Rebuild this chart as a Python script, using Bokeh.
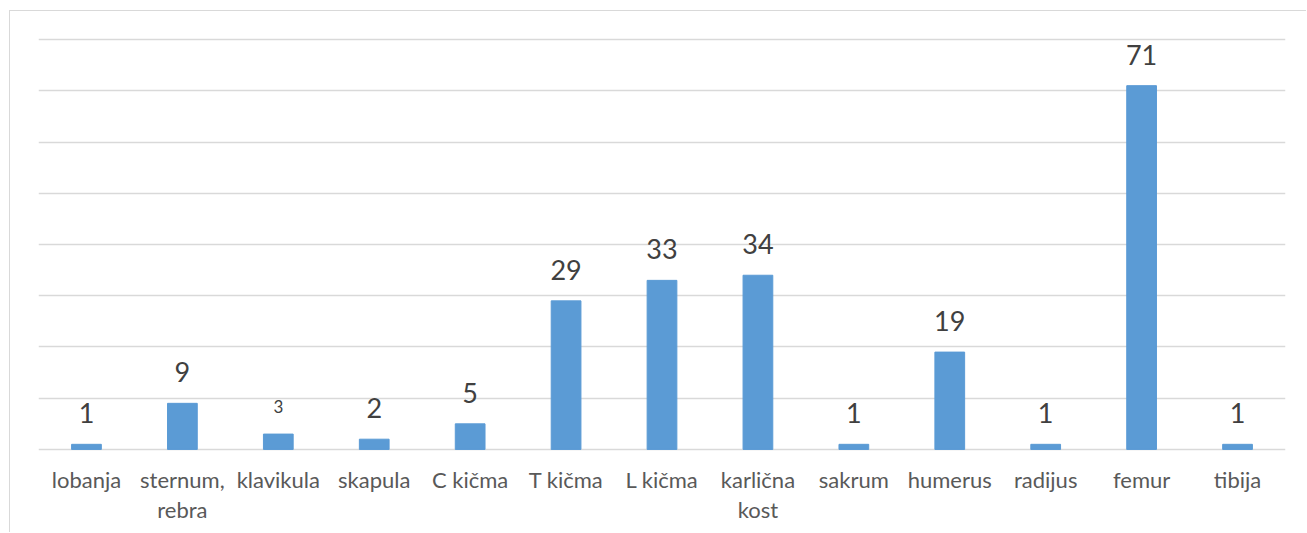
from bokeh.plotting import figure
from bokeh.models import ColumnDataSource, FactorRange, Range1d, Grid, FixedTicker
from bokeh.core.properties import value
from bokeh.embed import file_html
from bokeh.resources import INLINE

# Skeletal sites and counts
categories = ["lobanja", "sternum,\nrebra", "klavikula", "skapula", "C kičma",
              "T kičma", "L kičma", "karlična\nkost", "sakrum", "humerus",
              "radijus", "femur", "tibija"]
counts = [1, 9, 3, 2, 5, 29, 33, 34, 1, 19, 1, 71, 1]
label_sizes = ["27px", "27px", "17px", "27px", "27px", "27px", "27px",
               "27px", "27px", "27px", "27px", "27px", "27px"]
grid_ticks = [0, 10, 20, 30, 40, 50, 60, 70, 80]

FONT = "Lato"
BAR = "#5B9BD5"
GRID = "#D9D9D9"

source = ColumnDataSource(dict(
    cat=categories,
    n=counts,
    lab=[str(v) for v in counts],
    size=label_sizes,
))

p = figure(
    x_range=FactorRange(*categories, range_padding=0),
    y_range=Range1d(-0.4, 80.4),
    width=1297, height=522,
    output_backend="svg", toolbar_location=None,
    y_axis_location=None,
    min_border_left=28, min_border_right=22,
    min_border_top=26, min_border_bottom=82,
)
p.styles = {
    "margin-left": "9px", "margin-top": "10px",
    "border-left": f"1px solid {GRID}", "border-top": f"1px solid {GRID}",
}
p.outline_line_color = None
p.background_fill_color = "white"
p.border_fill_color = "white"

# horizontal gridlines every 10
p.xgrid.visible = False
for g in p.ygrid:
    g.visible = False
p.add_layout(Grid(dimension=1, ticker=FixedTicker(ticks=grid_ticks),
                  grid_line_color=GRID, grid_line_width=1.3))

p.vbar(x="cat", top="n", bottom=0, width=0.31, source=source,
       fill_color=BAR, line_color=BAR)

p.text(x="cat", y="n", text="lab", source=source,
       text_font=value(FONT), text_font_size="size",
       text_color="#404040", text_align="center", text_baseline="bottom",
       y_offset=-21)

ax = p.xaxis[0]
ax.axis_line_color = None
ax.major_tick_line_color = None
ax.minor_tick_line_color = None
ax.major_label_text_font = FONT
ax.major_label_text_font_size = "22px"
ax.major_label_text_color = "#595959"
ax.major_label_standoff = 8
ax.major_label_text_line_height = 1.14

open("out.html", "w").write(file_html(p, INLINE))
